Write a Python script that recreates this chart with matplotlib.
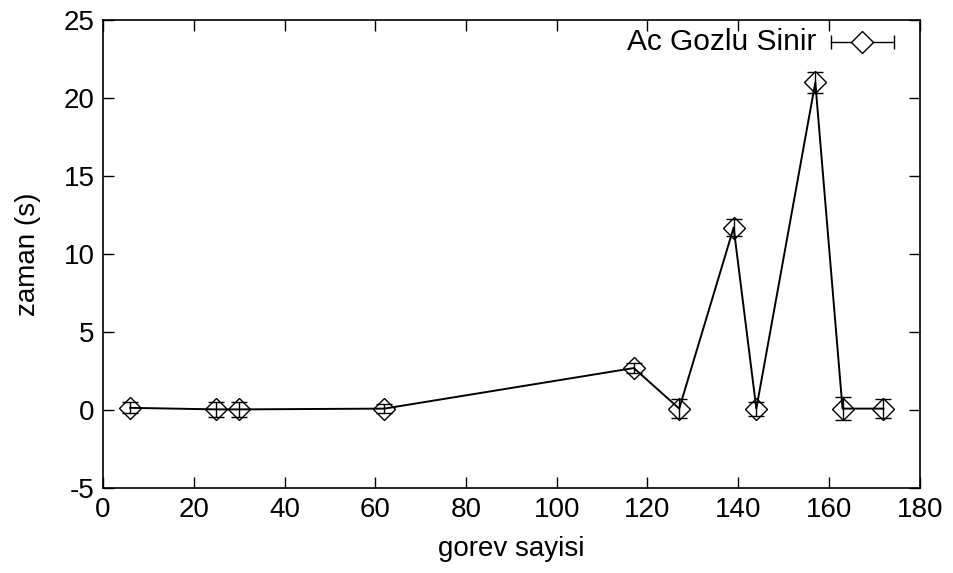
import matplotlib.pyplot as plt
import numpy as np

plt.rcParams['font.family'] = ['Liberation Sans', 'DejaVu Sans']
plt.rcParams['axes.unicode_minus'] = False

# data
gorev = [6, 25, 30, 62, 117, 127, 139, 144, 157, 163, 172]
zaman = [0.15, 0.05, 0.05, 0.1, 2.7, 0.1, 11.7, 0.1, 21.0, 0.1, 0.1]
hata = [0.35, 0.5, 0.5, 0.3, 0.33, 0.6, 0.57, 0.45, 0.66, 0.75, 0.6]
label = "Ac Gozlu Sinir"

fs = 20

fig = plt.figure(figsize=(9.54, 5.73), dpi=100)
ax = fig.add_axes([0.108, 0.148, 0.856, 0.817])

ax.errorbar(gorev, zaman, yerr=hata, color='black', lw=1.4,
            marker='D', ms=11, mfc='none', mec='black', mew=1.0,
            elinewidth=1.0, capsize=6, capthick=1.0)

ax.set_xlim(0, 180)
ax.set_ylim(-5, 25)
ax.set_xticks(np.arange(0, 181, 20))
ax.set_yticks(np.arange(-5, 26, 5))
ax.tick_params(direction='in', length=8, width=1, labelsize=fs,
               top=True, right=True, pad=6)
for s in ax.spines.values():
    s.set_linewidth(1.2)

ax.set_xlabel("gorev sayisi", fontsize=fs, labelpad=10)
ax.set_ylabel("zaman (s)", fontsize=fs, labelpad=16)

# gnuplot-style key in the top right
ky = 0.953
ax.text(0.874, ky, label, transform=ax.transAxes, fontsize=21.5,
        ha='right', va='center')
ax.plot([0.891, 0.969], [ky, ky], transform=ax.transAxes,
        color='black', lw=1.0)
ax.plot([0.891, 0.969], [ky, ky], transform=ax.transAxes,
        ls='none', marker='|', ms=10, mec='black', mew=1.0)
ax.plot([0.929], [ky], transform=ax.transAxes, ls='none',
        marker='D', ms=11, mfc='white', mec='black', mew=1.0)

plt.savefig("out.png", dpi=100)
